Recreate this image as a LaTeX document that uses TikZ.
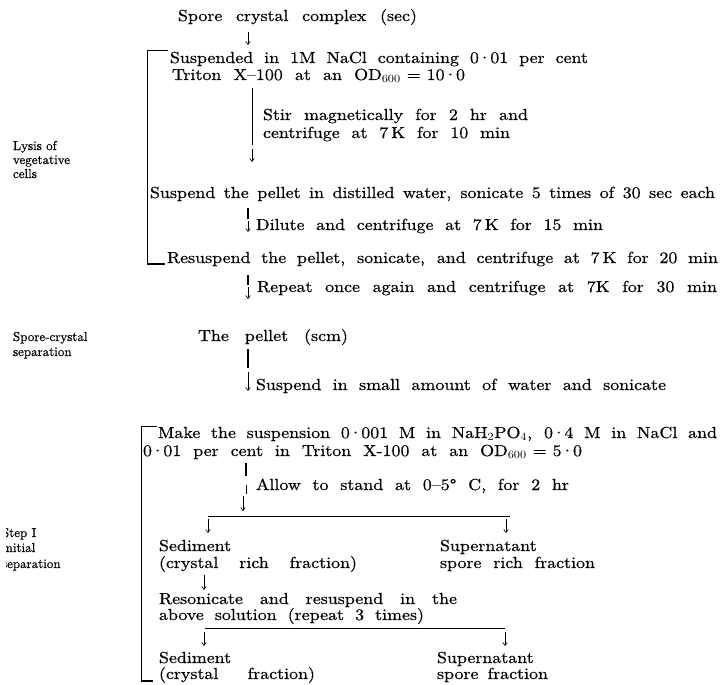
\documentclass[tikz,border=0pt]{standalone}
\usepackage{graphicx}
\usetikzlibrary{arrows.meta,calc}

% Latin Modern at its 10pt design, slightly emboldened, at any size
\DeclareFontFamily{TU}{lmten}{}
\DeclareFontShape{TU}{lmten}{m}{n}{<-> "[lmroman10-regular]:mapping=tex-text;embolden=0.5"}{}

% step text: widened glyphs, inter-word glue stretched to a given line width
\newlength\linewd
\def\xs{1.12}
\def\xsinv{0.89286}
\newcommand{\wl}[2]{\setlength\linewd{#1pt}%
  \scalebox{\xs}[1]{\makebox[\xsinv\linewd][s]{#2}}}
\newcommand{\wn}[1]{\scalebox{\xs}[1]{#1}}
\newcommand{\pc}{\kern-0.07em\textperiodcentered\kern-0.07em}

\tikzset{
  x=1pt, y=-1pt,
  txt/.style={anchor=base west, inner sep=0pt, outer sep=0pt,
    font=\fontfamily{lmten}\fontsize{16}{17}\selectfont},
  lab/.style={anchor=base west, inner sep=0pt, outer sep=0pt,
    font=\fontfamily{lmten}\fontsize{13}{14}\selectfont},
  arr/.style={-{Straight Barb[length=3pt,width=4.5pt]}, line width=0.65pt},
  bar/.style={line width=1.1pt},
  thinbar/.style={line width=0.65pt},
  rule/.style={line width=0.75pt},
}

\begin{document}
\begin{tikzpicture}
\useasboundingbox (0,0) rectangle (720,685);

% arrow columns
\coordinate (c1) at (248,0);
\coordinate (c2) at (252,0);
\coordinate (c3) at (248,0);
\coordinate (c4) at (246,0);
\coordinate (c4a) at (243,0);
\coordinate (cl) at (208,0);
\coordinate (cr) at (506,0);
\coordinate (cl2) at (204,0);
\coordinate (cr2) at (505,0);

% side labels
\node[lab] (ly1) at (13,150) {Lysis of};
\node[lab] (ly2) at (13,164) {vegetative};
\node[lab] (ly3) at (13,178) {cells};
\node[lab] (sc1) at (13,341) {Spore-crystal};
\node[lab] (sc2) at (13,356) {separation};
\begin{scope}
  \clip (6,500) rectangle (120,600);
  \node[lab] (st1) at (2,537) {Step I};
  \node[lab] (st2) at (1,552) {Initial};
  \node[lab] (st3) at (2,568) {separation};
\end{scope}

% lysis of vegetative cells
\node[txt] (sec) at (178,21) {\wl{239}{Spore crystal complex (sec)}};
\node[txt] (s1) at (170,63) {\wl{418}{Suspended in 1M NaCl containing 0\pc01 per cent}};
\node[txt] (s2) at (172,80) {\wl{293}{Triton X--100 at an \mbox{OD$_{600}$ = 10\pc0}}};
\node[txt] (m1) at (263,120) {\wl{265}{Stir magnetically for 2 hr and}};
\node[txt] (m2) at (263,138) {\wl{247}{centrifuge at 7\,K for 10 min}};
\node[txt] (p1) at (150,198) {\wl{565}{Suspend the pellet in distilled water, sonicate 5 times of 30 sec each}};
\node[txt] (d1) at (256,230) {\wl{347}{Dilute and centrifuge at 7\,K for 15 min}};
\node[txt] (r1) at (167,263) {\wl{551}{Resuspend the pellet, sonicate, and centrifuge at 7\,K for 20 min}};
\node[txt] (rp) at (257,292) {\wl{460}{Repeat once again and centrifuge at 7K for 30 min}};

% spore-crystal separation
\node[txt] (pel) at (198,341) {\wl{150}{The pellet (scm)}};
\node[txt] (sw) at (256,390) {\wl{410}{Suspend in small amount of water and sonicate}};

% step I, initial separation
\node[txt] (mk) at (158,438) {\wl{559}{Make the suspension 0\pc001 M in NaH$_2$PO$_4$, 0\pc4 M in NaCl and}};
\node[txt] (mk2) at (143,456) {\wl{439}{0\pc01 per cent in Triton X-100 at an \mbox{OD$_{600}$ = 5\pc0}}};
\node[txt] (al) at (256,490) {\wl{313}{Allow to stand at 0--5\textdegree\ C, for 2 hr}};
\node[txt] (sa1) at (159,551) {\wn{Sediment}};
\node[txt] (sa2) at (159,568) {\wl{198}{(crystal rich fraction)}};
\node[txt] (sb1) at (440,551) {\wn{Supernatant}};
\node[txt] (sb2) at (440,568) {\wl{155}{spore rich fraction}};
\node[txt] (rs1) at (159,604) {\wl{298}{Resonicate and resuspend in the}};
\node[txt] (rs2) at (159,620) {\wl{265}{above solution (repeat 3 times)}};
\node[txt] (sc) at (159,663) {\wn{Sediment}};
\node[txt] (sc3) at (159,679) {\wl{156}{(crystal fraction)}};
\node[txt] (sd) at (437,663) {\wn{Supernatant}};
\node[txt] (sd2) at (437,679) {\wl{111}{spore fraction}};

% brackets
\coordinate (b1t) at (147,50);
\coordinate (b1b) at (147,264);
\draw[rule] ($(b1t)+(21,0)$) -- (b1t) -- (b1b);
\draw[bar] (b1b) -- ++(18,0);
\coordinate (b2t) at (141,426);
\coordinate (b2b) at (141,681);
\draw[rule] ($(b2t)+(16,0)$) -- (b2t) -- (b2b);
\draw[bar] (b2b) -- ++(12,0);

% flow of the lysis steps
\draw[arr] ($(sec.base -| c1)+(0,11)$) -- ($(s1.base -| c1)+(0,-18)$);
\draw[thinbar] ($(s2.base -| c2)+(0,8)$) -- ($(m2.base -| c2)+(0,7)$);
\draw[arr] ($(m2.base -| c2)+(0,11)$) -- ($(p1.base -| c2)+(0,-36)$);
\draw[bar] ($(p1.base -| c3)+(0,10)$) -- ++(0,11);
\draw[arr] ($(p1.base -| c3)+(0,23)$) -- ($(r1.base -| c3)+(0,-31)$);
\draw[bar] ($(r1.base -| c3)+(0,12)$) -- ++(0,10);
\draw[arr] ($(r1.base -| c3)+(0,24)$) -- ($(pel.base -| c3)+(0,-42)$);

% to the initial separation
\draw[bar] ($(pel.base -| c3)+(0,8)$) -- ++(0,19);
\draw[arr] ($(pel.base -| c3)+(0,31)$) -- ($(mk.base -| c3)+(0,-47)$);
\draw[bar] ($(mk2.base -| c4)+(0,7)$) -- ++(0,13);
\draw[thinbar] ($(mk2.base -| c4)+(0,29)$) -- ++(0,9);

% first split
\coordinate (spl) at (208,516);
\coordinate (spr) at (510,516);
\draw[arr] ($(mk2.base -| c4a)+(0,40)$) -- ($(spl -| c4a)+(0,-5)$);
\draw[rule] (spl) -- (spr);
\draw[arr] ($(spl -| cl)+(0,3)$) -- ($(sa1.base -| cl)+(0,-18)$);
\draw[arr] ($(spr -| cr)+(0,3)$) -- ($(sb1.base -| cr)+(0,-18)$);
\draw[arr] ($(sa2.base -| cl2)+(0,7)$) -- ($(rs1.base -| cl2)+(0,-14)$);

% second split
\coordinate (sl2) at (205,628);
\coordinate (sr2) at (505,628);
\draw[rule] (sl2) -- (sr2);
\draw[arr] ($(sl2 -| cl2)+(0,4)$) -- ($(sc.base -| cl2)+(0,-17)$);
\draw[arr] ($(sr2 -| cr2)+(0,4)$) -- ($(sd.base -| cr2)+(0,-17)$);
\end{tikzpicture}
\end{document}
